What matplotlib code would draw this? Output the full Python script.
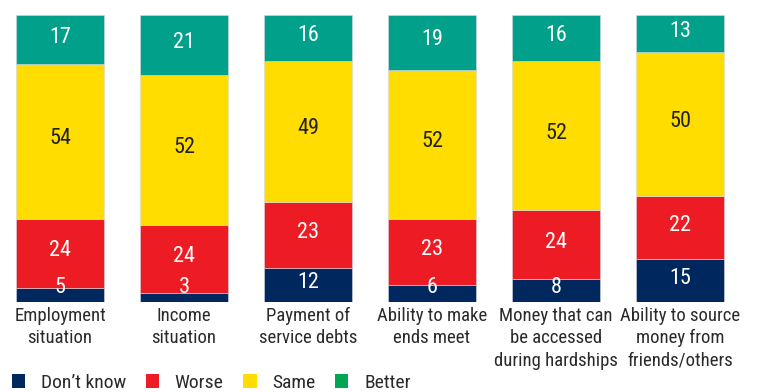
import matplotlib
matplotlib.use("Agg")
import matplotlib.pyplot as plt
from matplotlib.patches import Patch
import numpy as np

plt.rcParams['font.family'] = ['Roboto Condensed', 'Archivo Narrow', 'PT Sans Narrow',
                               'Liberation Sans', 'DejaVu Sans']

categories = [
    "Employment\nsituation",
    "Income\nsituation",
    "Payment of\nservice debts",
    "Ability to make\nends meet",
    "Money that can\nbe accessed\nduring hardships",
    "Ability to source\nmoney from\nfriends/others",
]
dont_know = [5, 3, 12, 6, 8, 15]
worse = [24, 24, 23, 23, 24, 22]
same = [54, 52, 49, 52, 52, 50]
better = [17, 21, 16, 19, 16, 13]

series = [
    ("Don\u2019t know", dont_know, "#00285e", "white"),
    ("Worse", worse, "#ed1c24", "white"),
    ("Same", same, "#ffdd00", "#222222"),
    ("Better", better, "#00a08a", "white"),
]
legend_colors = ["#00285e", "#ed1c24", "#ffdd00", "#00a651"]

fig = plt.figure(figsize=(7.59, 3.92), dpi=100)
ax = fig.add_axes([0, 90 / 392, 1, 287 / 392])

x = np.arange(len(categories))
bottom = np.zeros(len(categories))
for name, vals, color, tcolor in series:
    vals = np.array(vals, dtype=float)
    ax.bar(x, vals, bottom=bottom, width=0.71, color=color,
           edgecolor="#d8d8e0", linewidth=0.4)
    for xi, b, v in zip(x, bottom, vals):
        ypos = max(b + v / 2, b + 4.2)
        ax.text(xi, ypos + 0.8, f"{int(v)}", ha="center", va="center",
                fontsize=16, color=tcolor)
    bottom += vals

ax.set_xlim(-60 / 124, (759 - 60) / 124)
ax.set_ylim(0, 100)
ax.axis("off")

for xi, label in zip(x, categories):
    ax.text(xi, -1.6, label, ha="center", va="top", fontsize=13.5,
            color="#2a2a2a", linespacing=1.32)

handles = [Patch(facecolor=c, edgecolor="none") for c in legend_colors]
fig.legend(handles, [s[0] for s in series], loc="lower left",
           bbox_to_anchor=(0.0, -0.03), ncol=4, frameon=False,
           fontsize=14, labelcolor="#2a2a2a", handlelength=0.7, handleheight=0.7,
           handletextpad=0.8, columnspacing=1.0, borderaxespad=0.2)

fig.savefig("out.png", dpi=100)
